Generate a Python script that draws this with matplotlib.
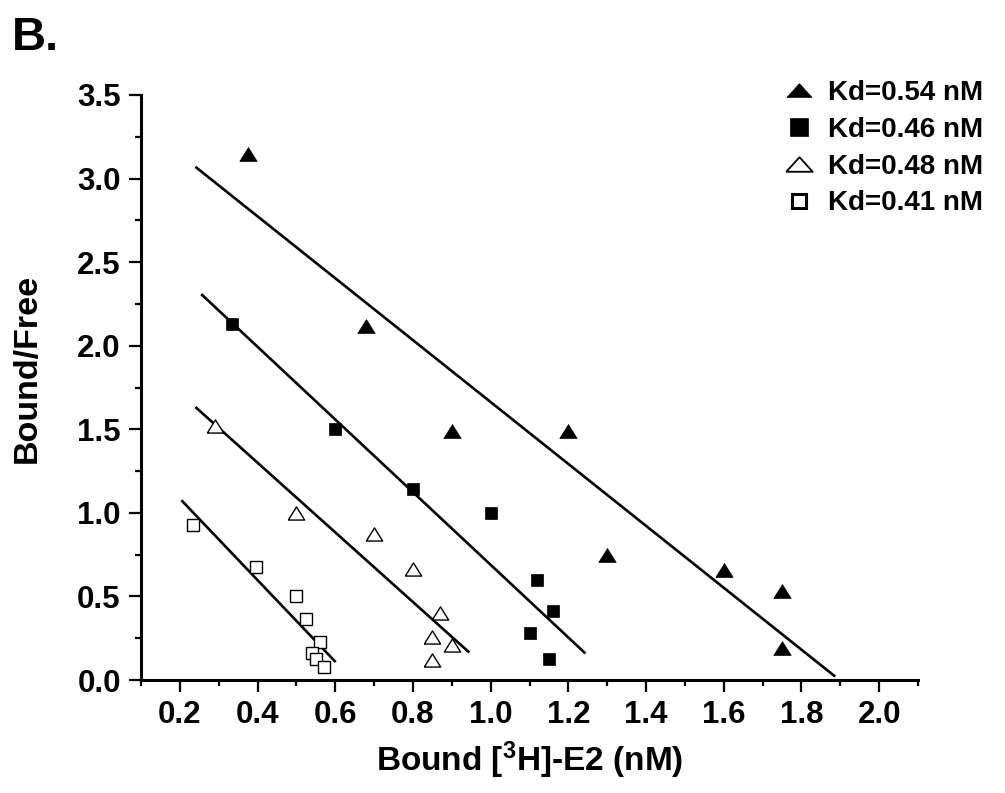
import numpy as np
import matplotlib
matplotlib.use("Agg")
import matplotlib.pyplot as plt
from matplotlib.lines import Line2D
from matplotlib.ticker import MultipleLocator, FormatStrFormatter

plt.rcParams["font.family"] = ["Liberation Sans", "DejaVu Sans"]
plt.rcParams["font.weight"] = "bold"
plt.rcParams["mathtext.fontset"] = "custom"
plt.rcParams["mathtext.default"] = "bf"
plt.rcParams["mathtext.bf"] = "Liberation Sans:bold"
plt.rcParams["mathtext.rm"] = "Liberation Sans:bold"

# Scatchard data: bound [3H]-E2 (nM) vs bound/free, four binding experiments
kd_values = [0.54, 0.46, 0.48, 0.41]          # nM, from slope = -1/Kd
bmax_values = [1.898, 1.317, 1.024, 0.645]    # nM, x-intercepts of the fits
fit_start = [0.24, 0.255, 0.24, 0.204]
fit_end = [1.887, 1.244, 0.945, 0.601]

bound_a = [0.375, 0.68, 0.90, 1.20, 1.30, 1.60, 1.75, 1.75]
ratio_a = [3.15, 2.12, 1.49, 1.49, 0.75, 0.66, 0.53, 0.19]

bound_b = [0.335, 0.60, 0.80, 1.00, 1.12, 1.16, 1.10, 1.15]
ratio_b = [2.13, 1.50, 1.14, 1.00, 0.60, 0.41, 0.28, 0.125]

bound_c = [0.29, 0.50, 0.70, 0.80, 0.87, 0.85, 0.90, 0.85]
ratio_c = [1.52, 1.00, 0.875, 0.665, 0.40, 0.26, 0.21, 0.12]

bound_d = [0.235, 0.395, 0.50, 0.525, 0.56, 0.54, 0.55, 0.57]
ratio_d = [0.925, 0.675, 0.50, 0.365, 0.23, 0.16, 0.125, 0.075]

series_x = [bound_a, bound_b, bound_c, bound_d]
series_y = [ratio_a, ratio_b, ratio_c, ratio_d]

W, H = 1005, 793
fig = plt.figure(figsize=(W / 100, H / 100), dpi=100)
ax = fig.add_axes([141 / W, 1 - 680 / H, 777 / W, 585 / H])

tri = [(-1, -0.8), (1, -0.8), (0, 0.8), (-1, -0.8)]
wide_tri = [(-1, -0.55), (1, -0.55), (0, 0.55), (-1, -0.55)]

data_styles = [
    dict(marker=tri, markersize=12.5, markerfacecolor="black", markeredgecolor="black", markeredgewidth=0.5),
    dict(marker="s", markersize=8.8, markerfacecolor="black", markeredgecolor="black", markeredgewidth=0.5),
    dict(marker=tri, markersize=11.8, markerfacecolor="white", markeredgecolor="black", markeredgewidth=1.0),
    dict(marker="s", markersize=9.3, markerfacecolor="white", markeredgecolor="black", markeredgewidth=1.0),
]
legend_styles = [
    dict(marker=wide_tri, markersize=18, markerfacecolor="black", markeredgecolor="black", markeredgewidth=0.5),
    dict(marker="s", markersize=12.5, markerfacecolor="black", markeredgecolor="black", markeredgewidth=0.5),
    dict(marker=wide_tri, markersize=19, markerfacecolor="white", markeredgecolor="black", markeredgewidth=1.3),
    dict(marker="s", markersize=10.5, markerfacecolor="white", markeredgecolor="black", markeredgewidth=2.2),
]

for xs, ys, kd, bmax, x0, x1, st in zip(series_x, series_y, kd_values, bmax_values,
                                       fit_start, fit_end, data_styles):
    xf = np.array([x0, x1])
    ax.plot(xf, (bmax - xf) / kd, color="black", linewidth=1.9, solid_capstyle="butt", zorder=2)
    ax.plot(xs, ys, linestyle="none", zorder=3, clip_on=False, **st)

ax.set_xlim(0.1, 2.1)
ax.set_ylim(0, 3.5)
ax.xaxis.set_major_locator(MultipleLocator(0.2))
ax.xaxis.set_minor_locator(MultipleLocator(0.1))
ax.yaxis.set_major_locator(MultipleLocator(0.5))
ax.yaxis.set_minor_locator(MultipleLocator(0.25))
ax.xaxis.set_major_formatter(FormatStrFormatter("%.1f"))
ax.yaxis.set_major_formatter(FormatStrFormatter("%.1f"))
ax.set_xticks(np.arange(0.2, 2.01, 0.2))

for side in ("top", "right"):
    ax.spines[side].set_visible(False)
for side in ("left", "bottom"):
    ax.spines[side].set_linewidth(2.2)

ax.tick_params(which="major", direction="out", length=8.5, width=1.6, labelsize=22.5, pad=6)
ax.tick_params(which="minor", direction="out", length=4.5, width=1.6)
for lab in ax.get_xticklabels() + ax.get_yticklabels():
    lab.set_fontweight("bold")

ax.set_xlabel(r"Bound [$^{3}$H]-E2 (nM)", fontsize=24, fontweight="bold", labelpad=7)
ax.set_ylabel("Bound/Free", fontsize=24.5, fontweight="bold")
ax.yaxis.set_label_coords(-0.127, 0.533)

handles = [Line2D([], [], linestyle="none", **st) for st in legend_styles]
labels = [f"Kd={kd:.2f} nM" for kd in kd_values]
ax.legend(handles, labels, loc="upper left", bbox_to_anchor=(784 / W, 1 - 80 / H),
          bbox_transform=fig.transFigure, frameon=False, prop=dict(size=20, weight="bold"),
          handlelength=1.1, handletextpad=0.49, labelspacing=0.39, borderpad=0, borderaxespad=0)

fig.text(12 / W, 1 - 50 / H, "B.", fontsize=34, fontweight="bold", va="baseline", ha="left")

fig.savefig("out.png", dpi=100)
